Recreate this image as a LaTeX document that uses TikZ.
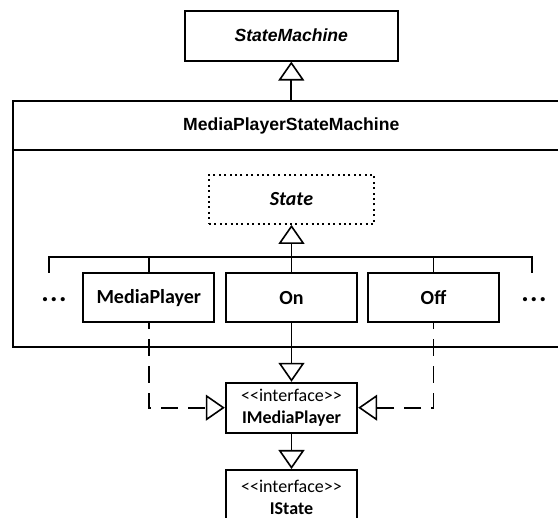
\documentclass[tikz,border=0pt]{standalone}
\usepackage{fontspec}
\setmainfont{Carlito}[Ligatures=TeXOff]
\newfontfamily\arialfont{Liberation Sans}
\usetikzlibrary{arrows.meta}

\tikzset{
  line/.style={line width=1.8pt},
  classbox/.style={draw, line, inner sep=0pt, minimum width=131pt, minimum height=49pt,
    font=\fontsize{20}{22}\selectfont\bfseries},
  ifacebox/.style={draw, line, inner sep=0pt, minimum width=131.6pt, minimum height=50pt,
    align=center, font=\fontsize{18}{22}\selectfont},
  abstractbox/.style={draw, line, dash pattern=on 2pt off 3.4pt, inner sep=0pt,
    minimum width=165pt, minimum height=49pt,
    font=\fontsize{20}{22}\selectfont\bfseries\itshape},
  inherit/.style={line, -{Triangle[open, length=19pt, width=26pt, line width=1.6pt]}},
  realize/.style={inherit, dash pattern=on 17pt off 10pt, dash phase=11pt},
  ellipsis/.style={font=\fontsize{28}{28}\selectfont\bfseries, inner sep=0pt}
}
\newcommand{\threedots}{.\kern1.5pt.\kern1.5pt.}

\begin{document}
\begin{tikzpicture}[x=1pt, y=-1pt]
  \useasboundingbox (0,0) rectangle (558,518);
  \clip (0,0) rectangle (558,518);

  % abstract base of the machine
  \node[draw, line, inner sep=0pt, minimum width=213pt, minimum height=50pt,
        font=\arialfont\fontsize{17.6}{20}\selectfont\bfseries\itshape]
        (sm) at (291.3,35.7) {StateMachine};

  % the concrete machine, drawn as a container running off the right side
  \draw[line] (13.3,101) rectangle (575,346.7);
  \draw[line] (13.3,150) -- (575,150);
  \node[font=\arialfont\fontsize{17.6}{20}\selectfont\bfseries, inner sep=0pt]
        (mpsm) at (291.3,125.5) {MediaPlayerStateMachine};
  \coordinate (mpsmtop) at (291.3,101);
  \draw[inherit] (mpsmtop) -- (sm.south);

  % nested states
  \node[abstractbox] (state) at (291.5,199.5) {State};
  \node[classbox] (mp)  at (148.8,297.8) {MediaPlayer};
  \node[classbox] (on)  at (291.5,297.8) {On};
  \node[classbox] (off) at (433.5,297.8) {Off};
  \node[ellipsis] (dl) at (54,299.3) {\threedots};
  \node[ellipsis] (dr) at (534,299.3) {\threedots};

  % inheritance bus
  \coordinate (busl) at (49.3,273);
  \coordinate (busr) at (532.3,273);
  \draw[line] (busl) |- (busr |- 0,256.7) -- (busr);
  \draw[line] (mp.north) -- (mp.north |- 0,256.7);
  \draw[line] (off.north) -- (off.north |- 0,256.7);
  \draw[inherit] (on.north) -- (state.south);

  % interfaces
  \node[ifacebox] (imp) at (291.5,407.7) {<<interface>>\\\textbf{IMediaPlayer}};
  \node[ifacebox, minimum height=54pt, anchor=north] (ist) at (291.5,469)
        {<<interface>>\\\textbf{IState}};

  \draw[inherit] (on.south) -- (imp.north);
  \draw[inherit] (imp.south) -- (ist.north);
  \draw[realize] (mp.south) |- (imp.west);
  \draw[realize] (off.south) |- (imp.east);
\end{tikzpicture}
\end{document}
